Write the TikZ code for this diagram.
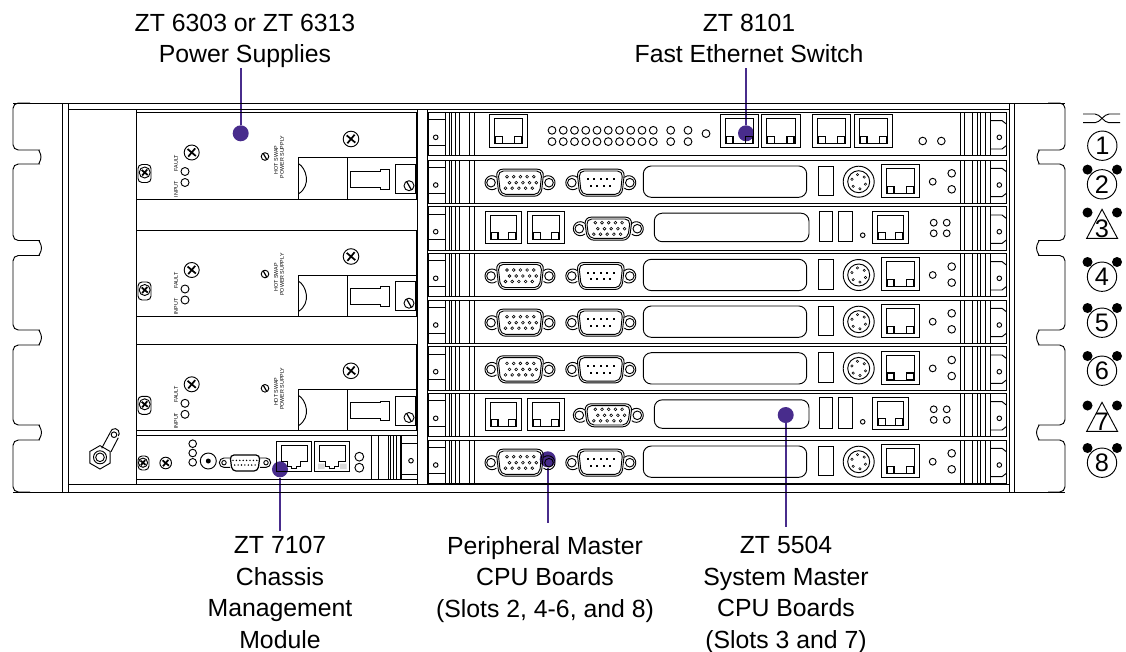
\documentclass[tikz,border=0pt]{standalone}
\usepackage{fontspec}
\setmainfont{Liberation Sans}
\definecolor{leadcolor}{RGB}{72,44,140}
\tikzset{
    art/.style={line width=0.7pt},
    label/.style={font=\fontsize{18.6}{23.6}\selectfont, align=center, inner sep=0pt},
    tinylabel/.style={font=\fontsize{4}{4.5}\selectfont, inner sep=0pt, rotate=90},
    leaddot/.style={circle, fill=leadcolor, inner sep=0pt, minimum size=12pt},
    leader/.style={draw=leadcolor, line width=1.5pt},
    slotring/.style={circle, draw, line width=0.7pt, inner sep=0pt, minimum size=22pt, font=\fontsize{19}{19}\selectfont},
    slotnum/.style={inner sep=0pt, font=\fontsize{19}{19}\selectfont},
    slotdot/.style={circle, fill=black, inner sep=0pt, minimum size=7.5pt},
    pics/xscrew/.style={code={
        \draw[art] (0,0) circle[radius=#1];
        \draw[line width=1.3pt] (40:.72*#1) -- (220:.72*#1) (130:.72*#1) -- (310:.72*#1);
    }},
    pics/slashscrew/.style={code={
        \draw[art] (0,0) circle[radius=#1];
        \draw[line width=0.9pt] (60:#1) -- (240:#1);
    }},
    pics/rjport/.style 2 args={code={
        \draw[art] (0,0) rectangle (#1,#2);
        \draw[art] (5,4) rectangle (#1-5,#2-4);
        \draw[line width=0.8pt] (6,#2-11) rectangle (13,#2-4) (#1-13,#2-11) rectangle (#1-6,#2-4);
    }},
    pics/stepjack/.style={code={
        \draw[art] (0,0) rectangle (35,30.7);
        \draw[art] (4.5,4) -- (30.7,4) -- (30.7,20.7) -- (24,20.7) -- (24,25) -- (20,25) -- (20,27.5) -- (15,27.5) -- (15,25) -- (11,25) -- (11,20.7) -- (4.5,20.7) -- cycle;
    }},
    pics/dshell/.style={code={
        \draw[art, rounded corners=5pt] (-24,-#1) -- (24,-#1) -- (21,#1) -- (-21,#1) -- cycle;
        \draw[art, rounded corners=4pt] (-22,1.8-#1) -- (22,1.8-#1) -- (19.5,#1-1.8) -- (-19.5,#1-1.8) -- cycle;
        \draw[art] (-28,0) +(50:7) arc[start angle=50,end angle=310,radius=7];
        \draw[art] (28,0) +(-130:7) arc[start angle=-130,end angle=130,radius=7];
        \draw[art] (-29,0) circle[radius=4.3] (29,0) circle[radius=4.3];
    }},
    pics/vgaport/.style={code={
        \pic at (0,0) {dshell=#1};
        \foreach \i in {0,...,4} {
            \draw[line width=0.45pt] (\i*6.7-13,-6) circle[radius=1.4];
            \draw[line width=0.45pt] (\i*6.7-10.5,0) circle[radius=1.4];
            \draw[line width=0.45pt] (\i*6.7-14.5,5.5) circle[radius=1.4];
        }
    }},
    pics/comport/.style={code={
        \pic at (0,0) {dshell=13.5};
        \foreach \i in {0,...,4} \fill (\i*6.5-13,-3.4) +(-1,-1) rectangle +(1,1);
        \foreach \i in {0,...,3} \fill (\i*6.5-10,3.4) +(-1,-1) rectangle +(1,1);
    }},
    % the strips and handles that every slot has, drawn from the slot's top edge
    pics/slotframe/.style={code={
        \draw[art] (428,0) rectangle (1006.7,43.3);
        \foreach \v in {445,449.3,451,455,459,469,474.3,960,964,972.7,977.3,980.7,985,990} \draw[art] (\v,0) -- (\v,43.3);
        \draw[art] (428,7.5) -- (445,7.5) (428,33) -- (445,33);
        \draw[art] (435.7,25) circle[radius=2.3];
        \draw[art] (1006.7,12) -- (1002,8.3) -- (990,8.3) (1006.7,33) -- (1002,36.7) -- (990,36.7);
        \draw[art] (999.3,25) circle[radius=2.3];
    }},
    pics/switchboard/.style={code={
        \pic at (0,0) {slotframe};
        \foreach \x in {489.3,720,761.7,812.3,854} \pic at (\x,2.5) {rjport={38.3}{33}};
        \foreach \i in {0,...,9} \draw[art] (552+\i*11.25,18) circle[radius=3.9] (552+\i*11.25,29.3) circle[radius=3.9];
        \foreach \x in {670.7,688} \draw[art] (\x,18) circle[radius=3.9] (\x,29.3) circle[radius=3.9];
        \draw[art] (706,21.3) circle[radius=3.9];
        \draw[art] (922.7,28.7) circle[radius=3.8] (941.3,28.7) circle[radius=3.8];
    }},
    pics/periphboard/.style={code={
        \pic at (0,0) {slotframe};
        \pic at (520,22.7) {vgaport=13.5};
        \pic at (600.8,22.7) {comport};
        \draw[art, rounded corners=6pt] (643.3,6) rectangle (806.7,37.3);
        \draw[art] (818.3,6) rectangle (833.3,35.7);
        \draw[art] (858.7,21.7) circle[radius=15.5] circle[radius=11];
        \foreach \a in {20,80,140,200,260,320} \draw[line width=0.4pt] (858.7,21.7) +(\a:7.2) circle[radius=1.2];
        \pic at (881,4.3) {rjport={38.3}{33}};
        \draw[art] (932.7,21.7) circle[radius=3.4] (951.7,13.3) circle[radius=3.8] (951.7,29.3) circle[radius=3.8];
    }},
    pics/masterboard/.style={code={
        \pic at (0,0) {slotframe};
        \pic at (485,5) {rjport={36.7}{32}};
        \pic at (527.7,5) {rjport={37}{32}};
        \pic at (608.3,22) {vgaport=11.5};
        \draw[art, rounded corners=6pt] (654.3,6.5) rectangle (809,35);
        \draw[art] (819.3,4.5) rectangle (832.7,35) (838.3,4.5) rectangle (852.3,35);
        \draw[art] (862.7,28.5) circle[radius=2.3];
        \pic at (872.3,4.5) {rjport={36}{32}};
        \foreach \x in {933.7,946.7} \draw[art] (\x,16) circle[radius=3.4] (\x,26.6) circle[radius=3.4];
    }},
    pics/powerunit/.style={code={
        \draw[art] (136,0) rectangle (416,86.5);
        \draw[art, rounded corners=3pt] (138,52) rectangle (151,70);
        \pic at (144.7,60) {xscrew=5.5};
        \pic at (191.7,40) {xscrew=7.5};
        \draw[art] (185,59) circle[radius=4] (185,70) circle[radius=4];
        \node[tinylabel] (-fault) at (176,50.5) {FAULT};
        \node[tinylabel] (-input) at (176,76.5) {INPUT};
        \pic at (265,44) {slashscrew=3.8};
        \node[tinylabel] (-swap) at (276,47.5) {HOT SWAP};
        \node[tinylabel] (-supply) at (282,44.5) {POWER SUPPLY};
        \pic at (351,26.5) {xscrew=7.8};
        \draw[art] (298.3,86.5) -- (298.3,45) -- (416,45) (347.3,45) -- (347.3,86.5);
        \draw[art] (298.3,51) .. controls (306,55) and (312,73) .. (298.3,81.5);
        \draw[art] (350,58.5) -- (380,58.5) -- (380,56.8) -- (389,56.8) -- (389,76.5) -- (380,76.5) -- (380,74.5) -- (350,74.5) -- cycle;
        \draw[art] (395.3,51.8) rectangle (415,80.8);
        \pic at (409,73.2) {slashscrew=5};
    }}
}
\begin{document}
\begin{tikzpicture}[x=0.75pt,y=-0.75pt]
    \useasboundingbox (0,0) rectangle (1126,651);

    % callouts
    \node[label, anchor=south] (pslabel) at (245,68) {ZT 6303 or ZT 6313\\Power Supplies};
    \node[label, anchor=south] (switchlabel) at (749,63) {ZT 8101\\Fast Ethernet Switch};
    \node[label, anchor=north] (cmmlabel) at (280,536) {ZT 7107\\Chassis\\Management\\Module};
    \node[label, anchor=north] (periphlabel) at (545,536) {Peripheral Master\\CPU Boards\\(Slots 2, 4-6, and 8)};
    \node[label, anchor=north] (masterlabel) at (786,536) {ZT 5504\\System Master\\CPU Boards\\(Slots 3 and 7)};

    \node[leaddot] (psdot) at (240.7,133.3) {};
    \node[leaddot] (switchdot) at (746,133.3) {};
    \node[leaddot] (cmmdot) at (280,469.3) {};
    \node[leaddot] (periphdot) at (547.7,459.3) {};
    \node[leaddot] (masterdot) at (785.7,415) {};
    \draw[leader] (psdot) -- (psdot |- pslabel.south);
    \draw[leader, shorten >=3.7pt] (switchdot) -- (switchdot |- switchlabel.south);
    \draw[leader, shorten >=3.7pt] (cmmdot) -- (cmmdot |- cmmlabel.north);
    \draw[leader, shorten >=10pt] (periphdot) -- (periphdot |- periphlabel.north);
    \draw[leader, shorten >=6.5pt] (masterdot) -- (masterdot |- masterlabel.north);

    % chassis and ears
    \draw[art] (13,103) -- (1065,103) (13,492) -- (1065,492);
    \draw[art] (68,109) -- (1009,109) (68,484) -- (1009,484);
    \foreach \x in {62.7,68,1009,1014} \draw[art] (\x,103) -- (\x,492);
    \foreach \x in {136,417.7,427} \draw[art] (\x,109) -- (\x,484);
    \draw[art, rounded corners=4pt] (30,103) -- (13,103) -- (13,150) -- (34,150) arc[start angle=-90,end angle=90,radius=7] -- (13,164)
        -- (13,240.5) -- (34,240.5) arc[start angle=-90,end angle=90,radius=7.5] -- (13,255.5)
        -- (13,330) -- (34,330) arc[start angle=-90,end angle=90,radius=7.5] -- (13,345)
        -- (13,425) -- (34,425) arc[start angle=-90,end angle=90,radius=7.5] -- (13,440) -- (13,492) -- (30,492);
    \begin{scope}[shift={(1078,0)},xscale=-1]
        \draw[art, rounded corners=4pt] (30,103) -- (13,103) -- (13,150) -- (34,150) arc[start angle=-90,end angle=90,radius=7] -- (13,164)
            -- (13,240.5) -- (34,240.5) arc[start angle=-90,end angle=90,radius=7.5] -- (13,255.5)
            -- (13,330) -- (34,330) arc[start angle=-90,end angle=90,radius=7.5] -- (13,345)
            -- (13,425) -- (34,425) arc[start angle=-90,end angle=90,radius=7.5] -- (13,440) -- (13,492) -- (30,492);
    \end{scope}

    % grounding stud
    \draw[art] (100,457.3) +(90:11.7) -- +(30:11.7) -- +(-30:11.7) -- +(-90:11.7) -- +(-150:11.7) -- +(150:11.7) -- cycle;
    \draw[art] (100,457.3) circle[radius=6.5] circle[radius=4.3];
    \draw[art] (101.7,448.3) -- (110.3,432.3) (111,451.7) -- (118.3,437.7);
    \draw[art] (110.3,432.3) arc[start angle=190,end angle=400,radius=4.5];
    \draw[art] (114,434.7) circle[radius=2.8];

    % power supplies
    \pic (psa) at (0,112.5) {powerunit};
    \pic (psb) at (0,230) {powerunit};
    \pic (psc) at (0,344.3) {powerunit};

    % chassis management module
    \draw[art] (136,435) -- (417.7,435) (136,479) -- (417.7,479);
    \draw[art, rounded corners=3pt] (138,456) rectangle (149,470);
    \pic at (143,462.7) {xscrew=4.6};
    \pic at (165.7,463) {xscrew=5.8};
    \foreach \y in {443.7,453,462.3} \draw[art] (192.7,\y) circle[radius=3.8];
    \draw[art] (208.3,461) circle[radius=8];
    \fill (208.3,461) circle[radius=2.5];
    \draw[line width=0.9pt, rounded corners=3pt] (230,455) -- (260,455) -- (258,471) -- (232,471) -- cycle;
    \draw[art] (230,458) -- (224,458) arc[start angle=-90,end angle=-270,radius=4.7] -- (230,467.4);
    \draw[art] (260,458) -- (266,458) arc[start angle=-90,end angle=90,radius=4.7] -- (260,467.4);
    \draw[art] (224,462.7) circle[radius=2.2] (266,462.7) circle[radius=2.2];
    \foreach \i in {0,...,7} \fill (233+\i*3.4,460.4) circle[radius=0.8];
    \foreach \i in {0,...,6} \fill (234.7+\i*3.4,465) circle[radius=0.8];
    \pic at (276.7,441) {stepjack};
    \fill[gray!30] (318,463.5) rectangle (324.5,469) (340,463.5) rectangle (346.5,469);
    \pic at (314.5,441) {stepjack};
    \draw[art] (359.3,456.7) circle[radius=4.4] (359.3,467.7) circle[radius=4.4];
    \foreach \x in {371.7,378.3,388.3,390,393.3,396.7,400,401.7} \draw[art] (\x,435) -- (\x,479);
    \draw[art] (401.7,443.3) -- (417.7,443.3) (401.7,474) -- (417.7,474);
    \draw[art] (411,460.7) circle[radius=2.3];

    % cpu and switch slots
    \pic at (0,112.3) {switchboard};
    \foreach \t in {160,253.3,300,346.7,440} \pic at (0,\t) {periphboard};
    \foreach \t in {206.7,393.3} \pic at (0,\t) {masterboard};

    % slot markers
    \draw[art] (1083,114) -- (1095,114) .. controls (1100,114) and (1104,122.7) .. (1109,122.7) -- (1120,122.7);
    \draw[art] (1083,122.7) -- (1095,122.7) .. controls (1100,122.7) and (1104,114) .. (1109,114) -- (1120,114);
    \node[slotring] (ringone) at (1102.3,145.7) {1};
    \foreach \n/\cy in {2/184.3,4/276.7,5/322.7,6/370.7,8/462.7} {
        \node[slotring] (ring\n) at (1102,\cy) {\n};
        \node[slotdot] (dotl\n) at (1087.5,\cy-14.7) {};
        \node[slotdot] (dotr\n) at (1117,\cy-14.7) {};
    }
    \foreach \n/\ty in {3/209.3,7/402.3} {
        \draw[art] (1102,\ty) -- (1117.5,\ty+29) -- (1086.7,\ty+29) -- cycle;
        \node[slotnum] (tri\n) at (1102,\ty+19) {\n};
        \node[slotdot] (dotl\n) at (1087.5,\ty+3.2) {};
        \node[slotdot] (dotr\n) at (1117,\ty+3.2) {};
    }
\end{tikzpicture}
\end{document}
